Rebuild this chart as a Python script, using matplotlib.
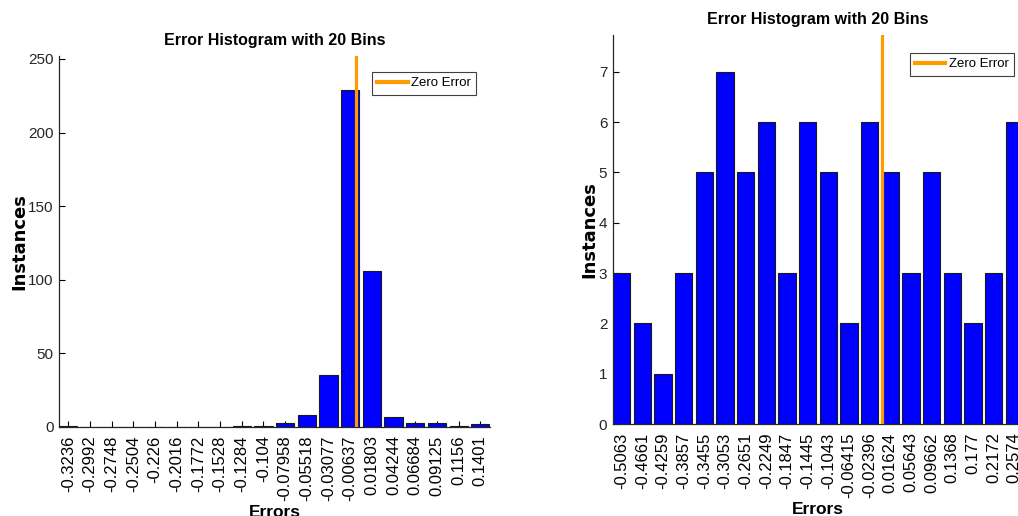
"""Two error histograms (20 bins) side by side, MATLAB-style."""

import matplotlib

matplotlib.use("Agg")
import matplotlib.pyplot as plt
import numpy as np

NARROW = ["Liberation Sans Narrow", "Liberation Sans", "DejaVu Sans"]
REGULAR = ["Liberation Sans", "DejaVu Sans"]

BAR_COLOR = "#0000FF"
ZERO_COLOR = "#FF9A00"

# left histogram
left_centers = [
    "-0.3236", "-0.2992", "-0.2748", "-0.2504", "-0.226", "-0.2016", "-0.1772",
    "-0.1528", "-0.1284", "-0.104", "-0.07958", "-0.05518", "-0.03077", "-0.00637",
    "0.01803", "0.04244", "0.06684", "0.09125", "0.1156", "0.1401",
]
left_counts = [1, 0, 0, 0, 0, 0, 0, 0, 1, 1, 3, 8, 35, 229, 106, 7, 3, 3, 1, 2]
left_yticks = [0, 50, 100, 150, 200, 250]

# right histogram
right_centers = [
    "-0.5063", "-0.4661", "-0.4259", "-0.3857", "-0.3455", "-0.3053", "-0.2651",
    "-0.2249", "-0.1847", "-0.1445", "-0.1043", "-0.06415", "-0.02396", "0.01624",
    "0.05643", "0.09662", "0.1368", "0.177", "0.2172", "0.2574",
]
right_counts = [3, 2, 1, 3, 5, 7, 5, 6, 3, 6, 5, 2, 6, 5, 3, 5, 3, 2, 3, 6]
right_yticks = [0, 1, 2, 3, 4, 5, 6, 7]


def draw_hist(ax, centers, counts, yticks, ymax, legend_anchor):
    idx = np.arange(len(centers))
    ax.bar(idx, counts, width=0.84, color=BAR_COLOR, edgecolor="#1a1a1a", linewidth=0.8, zorder=2)

    # zero position in bar-index coordinates
    zero_pos = np.interp(0.0, [float(c) for c in centers], idx)
    ax.axvline(zero_pos, color=ZERO_COLOR, linewidth=2.3, label="Zero Error", zorder=3)

    ax.set_xlim(-0.43, len(centers) - 0.55)
    ax.set_ylim(0, ymax)
    ax.set_xticks(idx)
    ax.set_xticklabels(centers, rotation=90, fontsize=12, family=REGULAR)
    ax.set_yticks(yticks)
    ax.set_yticklabels([str(t) for t in yticks], fontsize=11, family=NARROW, color="#262626")
    ax.tick_params(direction="in", length=4, width=0.8, pad=4)
    ax.tick_params(axis="x", pad=6)

    for side in ("top", "right"):
        ax.spines[side].set_visible(False)
    for side in ("left", "bottom"):
        ax.spines[side].set_linewidth(0.9)
        ax.spines[side].set_color("#262626")

    ax.set_title("Error Histogram with 20 Bins", fontsize=11.5, fontweight="bold", family=NARROW, pad=8)
    ax.set_xlabel("Errors", fontsize=12.5, fontweight="bold", family=NARROW, labelpad=3)
    ax.set_ylabel("Instances", fontsize=13, fontweight="bold", family=["DejaVu Sans"], labelpad=0)

    leg = ax.legend(
        loc="upper right",
        bbox_to_anchor=legend_anchor,
        borderaxespad=0,
        fancybox=False,
        framealpha=1,
        edgecolor="#404040",
        handlelength=2.3,
        handletextpad=0.25,
        borderpad=0.4,
        prop={"family": NARROW, "size": 9.5},
    )
    leg.get_frame().set_linewidth(0.8)
    for line in leg.get_lines():
        line.set_linewidth(3)


def main():
    fig = plt.figure(figsize=(10.18, 5.16), dpi=100)

    ax_left = fig.add_axes([0.058, 0.1725, 0.4234, 0.719])
    draw_hist(ax_left, left_centers, left_counts, left_yticks, 252, (0.9675, 0.957))

    ax_right = fig.add_axes([0.602, 0.178, 0.4035, 0.754])
    draw_hist(ax_right, right_centers, right_counts, right_yticks, 7.73, (0.976, 0.954))

    fig.savefig("out.png", dpi=100)
    plt.close(fig)


if __name__ == "__main__":
    main()
